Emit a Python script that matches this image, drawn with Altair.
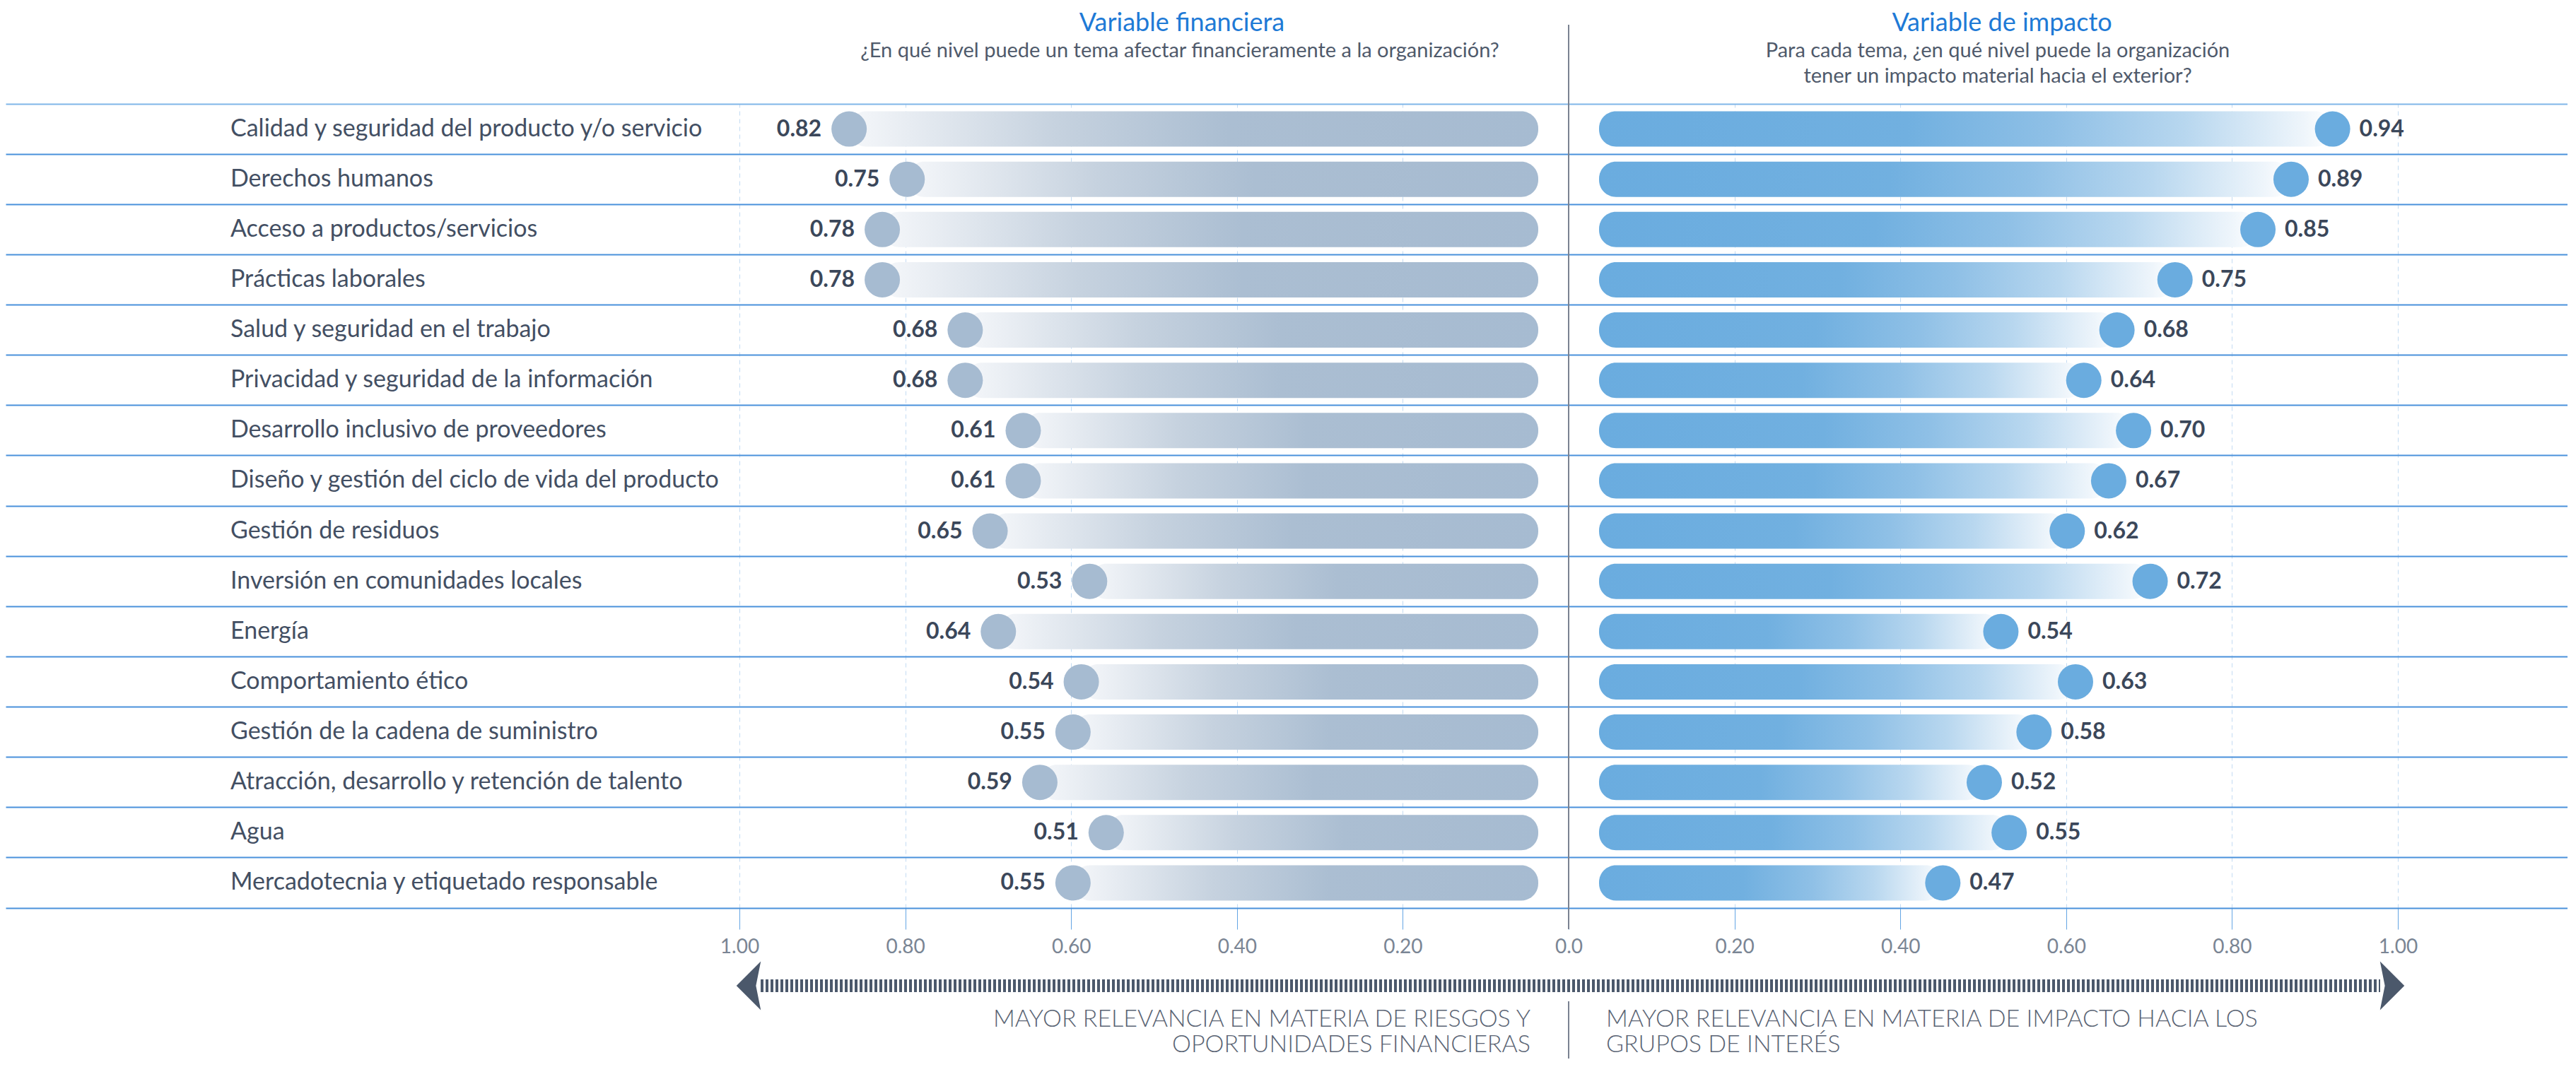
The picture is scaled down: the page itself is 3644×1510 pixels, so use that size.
import altair as alt
import pandas as pd

# ---------------- data ----------------
topics = [
    "Calidad y seguridad del producto y/o servicio",
    "Derechos humanos",
    "Acceso a productos/servicios",
    "Prácticas laborales",
    "Salud y seguridad en el trabajo",
    "Privacidad y seguridad de la información",
    "Desarrollo inclusivo de proveedores",
    "Diseño y gestión del ciclo de vida del producto",
    "Gestión de residuos",
    "Inversión en comunidades locales",
    "Energía",
    "Comportamiento ético",
    "Gestión de la cadena de suministro",
    "Atracción, desarrollo y retención de talento",
    "Agua",
    "Mercadotecnia y etiquetado responsable",
]
financiera = [0.82, 0.75, 0.78, 0.78, 0.68, 0.68, 0.61, 0.61, 0.65, 0.53, 0.64, 0.54, 0.55, 0.59, 0.51, 0.55]
impacto = [0.94, 0.89, 0.85, 0.75, 0.68, 0.64, 0.70, 0.67, 0.62, 0.72, 0.54, 0.63, 0.58, 0.52, 0.55, 0.47]
tick_values = [-1.0, -0.8, -0.6, -0.4, -0.2, 0.0, 0.2, 0.4, 0.6, 0.8, 1.0]

title_left = "Variable financiera"
sub_left = "¿En qué nivel puede un tema afectar financieramente a la organización?"
title_right = "Variable de impacto"
sub_right = ["Para cada tema, ¿en qué nivel puede la organización",
             "tener un impacto material hacia el exterior?"]
foot_left = ["MAYOR RELEVANCIA EN MATERIA DE RIESGOS Y", "OPORTUNIDADES FINANCIERAS"]
foot_right = ["MAYOR RELEVANCIA EN MATERIA DE IMPACTO HACIA LOS", "GRUPOS DE INTERÉS"]

df = pd.DataFrame({"topic": topics, "fin": financiera, "imp": impacto})
one = pd.DataFrame({"k": [0]})

# ---------------- style ----------------
FONT = "Lato"
W, H = 3624, 1138
PX_PER_UNIT = 1173
ZERO_PX = 2211
x_domain = [-ZERO_PX / PX_PER_UNIT, (W - ZERO_PX) / PX_PER_UNIT]

C_LEFT = "#a6bbd1"
C_RIGHT = "#6aacdf"
C_LABEL = "#434f63"
C_VALUE = "#3b475a"
C_TITLE = "#1e7ad6"
C_SUB = "#4f5a6b"
C_TICK = "#7a8594"
C_FOOT = "#5a6474"
C_ARROW = "#4b586b"
C_CENTER = "#7a8291"
C_ROW = "#4a91db"

xs = alt.Scale(domain=x_domain, nice=False, zero=False)
x_axis = alt.Axis(
    values=tick_values,
    labelExpr="datum.value == 0 ? '0.0' : format(abs(datum.value), '.2f')",
    title=None,
    grid=True, gridDash=[6, 5], gridColor="#c3dbf2", gridWidth=1,
    tickSize=30, tickColor="#64a5e4", tickWidth=1,
    domain=True, domainColor=C_ROW, domainWidth=2,
    labelFont=FONT, labelFontSize=28, labelFontWeight="normal", labelColor=C_TICK,
    labelPadding=11,
)


def X(field=None, datum=None):
    if datum is not None:
        return alt.X(datum=datum, scale=xs, axis=x_axis)
    return alt.X(field, scale=xs, axis=x_axis)


y_enc = alt.Y(
    "topic:N", sort=topics,
    scale=alt.Scale(paddingInner=0, paddingOuter=0),
    axis=alt.Axis(title=None, labels=False, ticks=False, domain=False,
                  grid=True, bandPosition=0, gridWidth=2,
                  gridColor=alt.condition(f"datum.value == '{topics[0]}'",
                                          alt.value("#80b6e8"), alt.value(C_ROW))),
)

base = alt.Chart(df).transform_calculate(neg="-datum.fin")

grad_left = alt.LinearGradient(
    gradient="linear", x1=0, x2=1, y1=0, y2=0,
    stops=[
        alt.GradientStop(offset=0.0, color="#f5f7fa"),
        alt.GradientStop(offset=0.12, color="#e2e8ef"),
        alt.GradientStop(offset=0.3, color="#c6d2df"),
        alt.GradientStop(offset=0.55, color="#abbed2"),
        alt.GradientStop(offset=1.0, color=C_LEFT),
    ],
)
grad_right = alt.LinearGradient(
    gradient="linear", x1=0, x2=1, y1=0, y2=0,
    stops=[
        alt.GradientStop(offset=0.0, color=C_RIGHT),
        alt.GradientStop(offset=0.42, color="#71b0e0"),
        alt.GradientStop(offset=0.62, color="#8fc0e6"),
        alt.GradientStop(offset=0.8, color="#b8d7ef"),
        alt.GradientStop(offset=0.96, color="#eef5fb"),
        alt.GradientStop(offset=1.0, color="#ffffff"),
    ],
)

band = alt.RelativeBandSize(0.703)

left_bars = base.mark_bar(
    fill=grad_left, cornerRadius=24, height=band, xOffset=-56, x2Offset=-43
).encode(x=X("neg:Q"), x2=alt.datum(0), y=y_enc)

right_bars = base.mark_bar(
    fill=grad_right, cornerRadius=24, height=band, xOffset=-22, x2Offset=43
).encode(x=X("imp:Q"), x2=alt.datum(0), y=y_enc)

left_dots = base.mark_circle(size=2500, opacity=1, color=C_LEFT, xOffset=-56).encode(
    x=X("neg:Q"), y=y_enc)
right_dots = base.mark_circle(size=2500, opacity=1, color=C_RIGHT, xOffset=-22).encode(
    x=X("imp:Q"), y=y_enc)

left_vals = base.mark_text(
    align="right", baseline="middle", dx=-95, font=FONT, fontSize=32,
    fontWeight="bold", color=C_VALUE
).encode(x=X("neg:Q"), y=y_enc, text=alt.Text("fin:Q", format=".2f"))
right_vals = base.mark_text(
    align="left", baseline="middle", dx=16, font=FONT, fontSize=32,
    fontWeight="bold", color=C_VALUE
).encode(x=X("imp:Q"), y=y_enc, text=alt.Text("imp:Q", format=".2f"))

topic_labels = base.mark_text(
    align="left", baseline="middle", font=FONT, fontSize=34, color=C_LABEL
).encode(x=alt.value(318), y=y_enc, text="topic:N")

# center divider (two segments)
center_top = alt.Chart(one).mark_rule(color=C_CENTER, strokeWidth=2).encode(
    x=X(datum=0), y=alt.value(-112), y2=alt.value(1168))
center_bot = alt.Chart(one).mark_rule(color=C_CENTER, strokeWidth=2).encode(
    x=X(datum=0), y=alt.value(1270), y2=alt.value(1400))

# striped double arrow
ARROW_Y = 1248
shaft = alt.Chart(one).mark_rule(
    color=C_ARROW, strokeWidth=18, strokeDash=[4, 3], strokeCap="butt",
    xOffset=30, x2Offset=-25
).encode(x=X(datum=-1), x2=alt.datum(1), y=alt.value(ARROW_Y))
head_left = alt.Chart(one).mark_point(
    shape="M -0.5 0 L 0.5 -1 L 0.3 0 L 0.5 1 Z", size=4761, filled=True,
    opacity=1, color=C_ARROW, xOffset=13
).encode(x=X(datum=-1), y=alt.value(ARROW_Y))
head_right = alt.Chart(one).mark_point(
    shape="M 0.5 0 L -0.5 -1 L -0.3 0 L -0.5 1 Z", size=4761, filled=True,
    opacity=1, color=C_ARROW, xOffset=-8
).encode(x=X(datum=1), y=alt.value(ARROW_Y))


def txt(s, px, py, size, color, align="center", weight="normal"):
    return alt.Chart(one).mark_text(
        text=s, align=align, baseline="alphabetic", font=FONT,
        fontSize=size, fontWeight=weight, color=color
    ).encode(x=alt.value(px), y=alt.value(py))


annotations = [
    txt(title_left, 1664, -103, 36, C_TITLE),
    txt(sub_left, 1661, -66, 29, C_SUB),
    txt(title_right, 2824, -103, 36, C_TITLE),
    txt(sub_right[0], 2818, -66, 29, C_SUB),
    txt(sub_right[1], 2818, -30, 29, C_SUB),
    txt(foot_left[0], 2157, 1306, 34, C_FOOT, align="right", weight=300),
    txt(foot_left[1], 2157, 1342, 34, C_FOOT, align="right", weight=300),
    txt(foot_right[0], 2264, 1306, 34, C_FOOT, align="left", weight=300),
    txt(foot_right[1], 2264, 1342, 34, C_FOOT, align="left", weight=300),
]

chart = alt.layer(
    left_bars, right_bars, left_dots, right_dots, left_vals, right_vals,
    topic_labels, center_top, center_bot, shaft, head_left, head_right,
    *annotations
).properties(
    width=W, height=H,
    autosize=alt.AutoSizeParams(type="none"),
    padding={"left": 0, "top": 139, "right": 0, "bottom": 213},
    background="white",
).configure_view(stroke="transparent")

chart.save("out.html", embed_options={"renderer": "svg", "actions": False})
